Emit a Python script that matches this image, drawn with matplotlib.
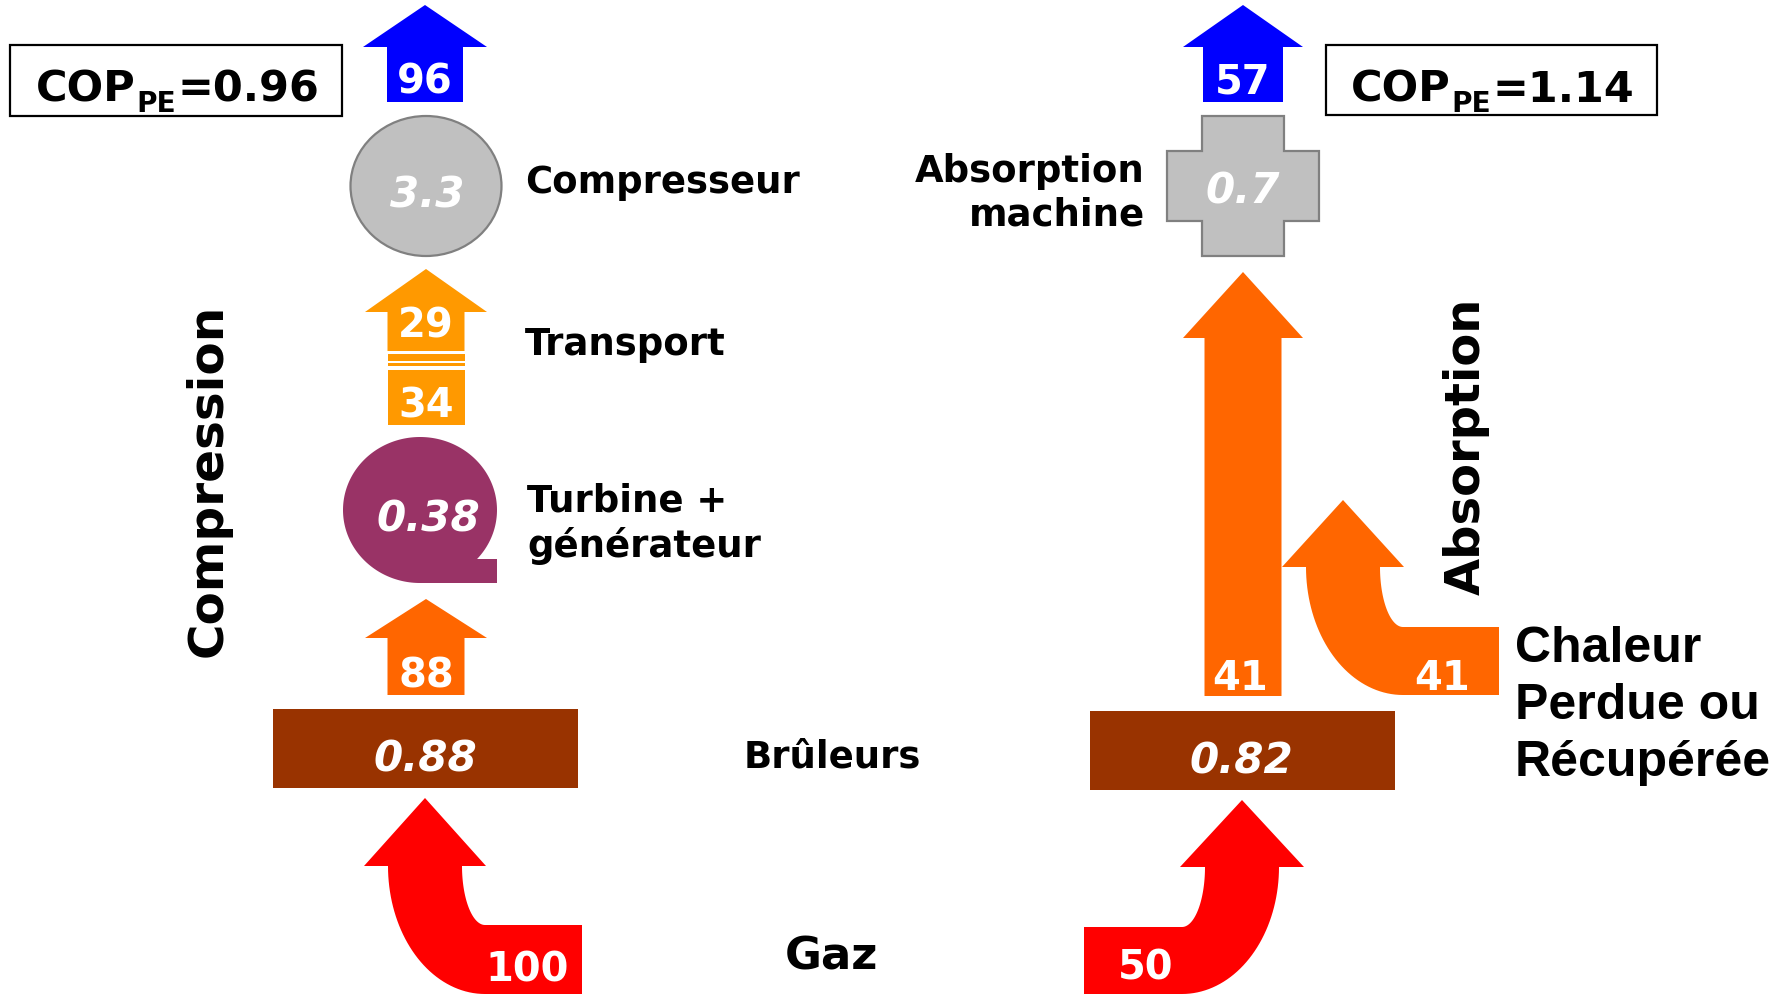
import numpy as np
import matplotlib
matplotlib.use("Agg")
import matplotlib.pyplot as plt
from matplotlib.patches import Polygon, Rectangle, Ellipse

# ---------------- data ----------------
comp_flows = [100, 88, 34, 29, 96]        # gaz, burner out, transport in, transport out, heat out
comp_eff = [0.88, 0.38, 3.3]              # burners, turbine+generator, compressor
abs_flows = [50, 41, 41, 57]              # gaz, burner out, recovered heat, heat out
abs_eff = [0.82, 0.7]                     # burners, absorption machine
cop_values = [0.96, 1.14]
stage_labels = ["Compresseur", "Transport", "Turbine +\ngénérateur", "Brûleurs", "Gaz"]
abs_label = "Absorption\nmachine"
side_titles = ["Compression", "Absorption"]
waste_label = ["Chaleur", "Perdue ou", "Récupérée"]

# ---------------- colours ----------------
BLUE = "#0000ff"
ORANGE_L = "#ff9900"
ORANGE = "#ff6600"
RED = "#ff0000"
BROWN = "#993300"
PURPLE = "#993366"
GREY = "#c0c0c0"
GREY_E = "#808080"

fig = plt.figure(figsize=(17.9, 9.95), dpi=100)
ax = fig.add_axes([0, 0, 1, 1])
ax.set_xlim(0, 1790)
ax.set_ylim(995, 0)
ax.axis("off")

PX = 0.72  # points per pixel at 100 dpi
BOLD = "DejaVu Sans"


def up_arrow(cx, tip, base, bottom, hw, sw, color):
    pts = [(cx, tip), (cx + hw, base), (cx + sw, base), (cx + sw, bottom),
           (cx - sw, bottom), (cx - sw, base), (cx - hw, base)]
    ax.add_patch(Polygon(pts, closed=True, fc=color, ec="none"))


def bent_arrow(cx, tip, base, hw, sw, band_top, band_bot, band_end, side, color, n=40):
    """Arrow pointing up, its tail bending sideways (side=+1 right, -1 left)."""
    t = np.linspace(0, np.pi / 2, n)
    inner_x0 = cx + side * sw
    outer_x0 = cx - side * sw
    ccx = inner_x0 + side * 23
    ry_in = band_top - base
    rx_in = abs(ccx - inner_x0)
    rx_out = abs(ccx - outer_x0)
    ry_out = band_bot - base
    inner = [(ccx - side * rx_in * np.cos(a), base + ry_in * np.sin(a)) for a in t]
    outer = [(ccx - side * rx_out * np.cos(a), base + ry_out * np.sin(a)) for a in t[::-1]]
    pts = [(cx, tip), (cx + side * hw, base), (inner_x0, base)] + inner + \
          [(band_end, band_top), (band_end, band_bot)] + outer + [(outer_x0, base), (cx - side * hw, base)]
    ax.add_patch(Polygon(pts, closed=True, fc=color, ec="none"))


def white_num(x, y, s, italic=False, size=40):
    ax.text(x, y, s, color="white", fontsize=size * PX, fontweight="bold",
            style="italic" if italic else "normal", family=BOLD,
            ha="center", va="baseline")


# ================= LEFT : Compression =================
L = 426
bent_arrow(425, 799, 867, 61, 37, 926, 995, 582, +1, RED)
white_num(527, 982, str(comp_flows[0]))
ax.add_patch(Rectangle((273, 710), 305, 79, fc=BROWN, ec="none"))
white_num(425, 772, f"{comp_eff[0]:g}", italic=True, size=42)
up_arrow(L, 600, 639, 696, 61, 38.5, ORANGE)
white_num(L, 687, str(comp_flows[1]))
# turbine + generator (teardrop)
cx, cy, rx, ry = 420, 511, 77, 73
t = np.linspace(np.pi / 2, 2 * np.pi + np.arcsin(49 / 73), 200)
pts = [(cx + rx * np.cos(a), cy + ry * np.sin(a)) for a in t] + [(497, 560), (497, 584)]
ax.add_patch(Polygon(pts, closed=True, fc=PURPLE, ec="none"))
white_num(428, 532, f"{comp_eff[1]:g}", italic=True, size=42)
# transport: 34 box, stripes, 29 arrow
ax.add_patch(Rectangle((388, 371), 77, 55, fc=ORANGE_L, ec="none"))
ax.add_patch(Rectangle((388, 355), 77, 6.5, fc=ORANGE_L, ec="none"))
ax.add_patch(Rectangle((388, 363.5), 77, 3.5, fc=ORANGE_L, ec="none"))
white_num(L, 418, str(comp_flows[2]))
up_arrow(L, 270, 313, 352, 61, 38.5, ORANGE_L)
white_num(L, 338, str(comp_flows[3]))
# compressor
ax.add_patch(Ellipse((426, 187), 151, 140, fc=GREY, ec=GREY_E, lw=1.6))
white_num(427, 207, f"{comp_eff[2]:g}", italic=True, size=42)
up_arrow(425, 6, 48, 103, 62, 38, BLUE)
white_num(425, 94, str(comp_flows[4]))

# ================= RIGHT : Absorption =================
R = 1243
bent_arrow(1242, 801, 868, 62, 37, 928, 995, 1084, -1, RED)
white_num(1146, 980, str(abs_flows[0]))
ax.add_patch(Rectangle((1090, 712), 305, 79, fc=BROWN, ec="none"))
white_num(1241, 773, f"{abs_eff[0]:g}", italic=True, size=42)
up_arrow(R, 273, 339, 697, 60, 38.5, ORANGE)
white_num(1240, 690, str(abs_flows[1]))
bent_arrow(1343, 501, 568, 61, 37, 628, 696, 1499, +1, ORANGE)
white_num(1442, 690, str(abs_flows[2]))
x1, x2, x3, x4 = 1167, 1202, 1284, 1319
y1, y2, y3, y4 = 117, 152, 222, 257
cross = [(x2, y1), (x3, y1), (x3, y2), (x4, y2), (x4, y3), (x3, y3), (x3, y4),
         (x2, y4), (x2, y3), (x1, y3), (x1, y2), (x2, y2)]
ax.add_patch(Polygon(cross, closed=True, fc=GREY, ec=GREY_E, lw=1.6))
white_num(1243, 204, f"{abs_eff[1]:g}", italic=True, size=42)
up_arrow(R, 6, 48, 103, 60, 40, BLUE)
white_num(R, 94, str(abs_flows[3]))

# ================= COP boxes =================
ax.add_patch(Rectangle((10, 46), 332, 71, fc="none", ec="black", lw=1.6))
ax.add_patch(Rectangle((1326, 46), 331, 70, fc="none", ec="black", lw=1.6))

fig.canvas.draw()
renderer = fig.canvas.get_renderer()
inv = ax.transData.inverted()


def cop_text(x0, base, val):
    t1 = ax.text(x0, base, "COP", fontsize=43 * PX, fontweight="bold", family=BOLD,
                 ha="left", va="baseline")
    e = t1.get_window_extent(renderer)
    xr = inv.transform((e.x1, 0))[0]
    t2 = ax.text(xr + 1, base + 10, "PE", fontsize=28 * PX, fontweight="bold", family=BOLD,
                 ha="left", va="baseline")
    e2 = t2.get_window_extent(renderer)
    xr2 = inv.transform((e2.x1, 0))[0]
    ax.text(xr2 + 1, base, f"={val:.2f}", fontsize=43 * PX, fontweight="bold", family=BOLD,
            ha="left", va="baseline")


cop_text(36, 102, cop_values[0])
cop_text(1351, 102, cop_values[1])

# ================= labels =================
lab = dict(fontsize=37 * PX, fontweight="bold", family=BOLD, color="black")
ax.text(525, 193, stage_labels[0], ha="left", va="baseline", **lab)
ax.text(525, 355, stage_labels[1], ha="left", va="baseline", **lab)
ax.text(527, 512, stage_labels[2].split("\n")[0], ha="left", va="baseline", **lab)
ax.text(527, 557, stage_labels[2].split("\n")[1], ha="left", va="baseline", **lab)
ax.text(744, 767, stage_labels[3], ha="left", va="baseline", **lab)
ax.text(785, 969, stage_labels[4], ha="left", va="baseline", fontsize=45 * PX,
        fontweight="bold", family=BOLD)
ax.text(1145, 182, abs_label.split("\n")[0], ha="right", va="baseline", **lab)
ax.text(1145, 225, abs_label.split("\n")[1], ha="right", va="baseline", **lab)

ax.text(208, 480, side_titles[0], rotation=90, ha="center", va="center",
        fontsize=48.5 * PX, fontweight="bold", family=BOLD)
ax.text(1466, 446, side_titles[1], rotation=90, ha="center", va="center",
        fontsize=48 * PX, fontweight="bold", family=BOLD)

for txt, yb in zip(waste_label, [662, 719, 776]):
    ax.text(1515, yb, txt, ha="left", va="baseline", fontsize=50 * PX,
            fontweight="bold", family="Liberation Sans")

fig.savefig("out.png", dpi=100)
